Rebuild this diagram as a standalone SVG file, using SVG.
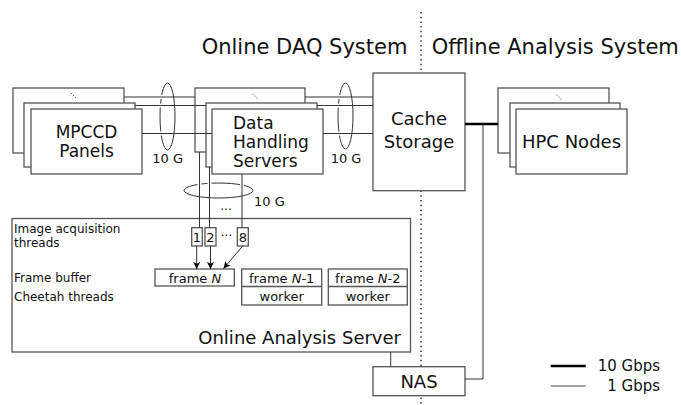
<svg xmlns="http://www.w3.org/2000/svg" width="681" height="405" viewBox="0 0 681 405">
<defs>
<style>
text{font-family:"DejaVu Sans","Liberation Sans",sans-serif;fill:#111}
.box{fill:#fff;stroke:#555;stroke-width:1.3}
.ln{fill:none;stroke:#333;stroke-width:1}
.gap{fill:none;stroke:#fff;stroke-width:4}
.thick{fill:none;stroke:#000;stroke-width:2.6}
.t18{font-size:18px}
.t17{font-size:17px}
.t13{font-size:13px}
.t12{font-size:12px}
.mid{text-anchor:middle}
</style>
<g id="dots"><circle cx="-2" cy="-2" r="0.6" fill="#555"/><circle cx="0" cy="0" r="0.6" fill="#555"/><circle cx="2" cy="2" r="0.6" fill="#555"/></g>
<marker id="ah" viewBox="0 0 10 10" refX="10" refY="5" markerWidth="8" markerHeight="7" markerUnits="userSpaceOnUse" orient="auto"><path d="M0,0 L10,5 L0,10 L2.5,5 z" fill="#000"/></marker>
</defs>
<rect width="681" height="405" fill="#fff"/>

<!-- dotted divider -->
<line x1="421" y1="12" x2="421" y2="405" stroke="#333" stroke-width="1.5" stroke-dasharray="1.5 3.2"/>

<text x="201.7" y="54" style="font-size:21px">Online DAQ System</text>
<text x="431.7" y="54" style="font-size:21px">Offline Analysis System</text>

<g id="mpccd">
<rect class="box" x="13" y="88" width="111" height="65"/>
<use href="#dots" x="73.5" y="95.5"/>
<rect class="box" x="24" y="103" width="111" height="64"/>
<rect class="box" x="31" y="109" width="111" height="65"/>
<text class="t17 mid" x="86.5" y="138">MPCCD</text>
<text class="t17 mid" x="86.5" y="157">Panels</text>
</g>

<g id="dhs">
<rect class="box" x="195" y="88" width="110" height="64"/>
<use href="#dots" x="255" y="96"/>
<rect class="box" x="206" y="103" width="111" height="64"/>
<rect class="box" x="212" y="109" width="111" height="65"/>
<text class="t17" x="233" y="129">Data</text>
<text class="t17" x="233" y="148">Handling</text>
<text class="t17" x="233" y="167">Servers</text>
</g>

<g id="cache">
<rect class="box" x="373" y="73" width="92" height="117.7"/>
<text class="t18 mid" x="419" y="125">Cache</text>
<text class="t18 mid" x="419" y="147.7">Storage</text>
</g>

<g id="hpc">
<rect class="box" x="498" y="88" width="111" height="65"/>
<use href="#dots" x="559" y="97"/>
<rect class="box" x="510" y="103" width="110" height="64"/>
<rect class="box" x="516" y="109" width="111" height="65"/>
<text class="t18 mid" x="571.5" y="147.7">HPC Nodes</text>
</g>

<g id="oas">
<rect class="box" x="12" y="218.5" width="398.5" height="133.5"/>
<text class="t12" x="14" y="233.3">Image acquisition</text>
<text class="t12" x="14" y="247.3">threads</text>
<text class="t12" x="14" y="281.7">Frame buffer</text>
<text class="t12" x="14" y="301">Cheetah threads</text>
<text class="t18" x="401" y="344.3" text-anchor="end">Online Analysis Server</text>
</g>

<g id="thread1"><rect class="box" x="191.7" y="227.7" width="10.6" height="18.3"/><text class="t13 mid" x="197" y="242">1</text></g>
<g id="thread2"><rect class="box" x="205" y="227.7" width="11" height="18.3"/><text class="t13 mid" x="210.5" y="242">2</text></g>
<text class="t12 mid" x="226.5" y="236">...</text>
<g id="thread8"><rect class="box" x="237.3" y="227.7" width="11" height="18.3"/><text class="t13 mid" x="242.8" y="242">8</text></g>

<g id="frameN"><rect class="box" x="155" y="269" width="79.3" height="17"/><text class="t13 mid" x="195" y="282.5">frame <tspan font-style="italic">N</tspan></text></g>
<g id="frameN1"><rect class="box" x="241.7" y="269" width="80" height="36"/><line x1="241.7" y1="286.5" x2="321.7" y2="286.5" stroke="#555" stroke-width="1.3"/><text class="t13 mid" x="281.7" y="282.5">frame <tspan font-style="italic">N</tspan>-1</text><text class="t13 mid" x="281.7" y="300.7">worker</text></g>
<g id="frameN2"><rect class="box" x="328.3" y="269" width="79" height="36"/><line x1="328.3" y1="286.5" x2="407.3" y2="286.5" stroke="#555" stroke-width="1.3"/><text class="t13 mid" x="367.8" y="282.5">frame <tspan font-style="italic">N</tspan>-2</text><text class="t13 mid" x="367.8" y="300.7">worker</text></g>

<g id="nas">
<rect class="box" x="373" y="366.7" width="92" height="29"/>
<text class="t18 mid" x="419" y="388.3">NAS</text>
</g>

<g id="connectors">
<!-- MPCCD -> DHS bundle -->
<path class="ln" d="M167.5,83 A7.5,33.5 0 0 0 167.5,150"/>
<path class="gap" d="M157,97 H165 M157,105.5 H165 M157,133.5 H165"/>
<path class="ln" d="M124,97 H195 M135,105.5 H206 M142,133.5 H212"/>
<path class="ln" d="M167.5,83 A7.5,33.5 0 0 1 167.5,150"/>
<text class="t13" x="152.3" y="163.3">10 G</text>

<!-- DHS -> Cache bundle -->
<path class="ln" d="M345.5,83 A7.5,33 0 0 0 345.5,149"/>
<path class="gap" d="M335,97 H343 M335,105.5 H343 M335,133.5 H343"/>
<path class="ln" d="M305,97 H373 M317,105.5 H373 M323,133.5 H373"/>
<path class="ln" d="M345.5,83 A7.5,33 0 0 1 345.5,149"/>
<text class="t13" x="330.7" y="163.3">10 G</text>

<!-- DHS -> threads bundle -->
<path class="ln" d="M184,190.5 A34.5,7.5 0 0 1 253,190.5"/>
<path class="gap" d="M199.5,180 V188 M209.5,180 V188 M242,180 V188"/>
<path class="ln" d="M199.5,152 V227.7 M209.5,167 V227.7 M242,174 V227.7"/>
<path class="ln" d="M184,190.5 A34.5,7.5 0 0 0 253,190.5"/>
<text class="t13" x="254" y="205.7">10 G</text>
<text class="t12 mid" x="226" y="210">...</text>

<!-- arrows threads -> frame N -->
<line class="ln" x1="196.7" y1="246" x2="196.7" y2="269" stroke="#000" marker-end="url(#ah)"/>
<line class="ln" x1="210.5" y1="246" x2="210.5" y2="269" stroke="#000" marker-end="url(#ah)"/>
<line class="ln" x1="242.7" y1="246" x2="223.5" y2="268.5" stroke="#000" marker-end="url(#ah)"/>

<!-- cache -> HPC 10 Gbps -->
<line class="thick" x1="465" y1="124" x2="498" y2="124"/>
<!-- storage network to NAS -->
<path class="ln" d="M483,124 V379 H465"/>
<line class="ln" x1="390.7" y1="352" x2="390.7" y2="366.7"/>
</g>

<g id="legend">
<line class="thick" x1="550.7" y1="366" x2="585.7" y2="366"/>
<line x1="550.7" y1="386" x2="585.7" y2="386" stroke="#888" stroke-width="1.4"/>
<text x="597.7" y="371" style="font-size:15px">10 Gbps</text>
<text x="660" y="390.7" style="font-size:15px" text-anchor="end">1 Gbps</text>
</g>
</svg>
